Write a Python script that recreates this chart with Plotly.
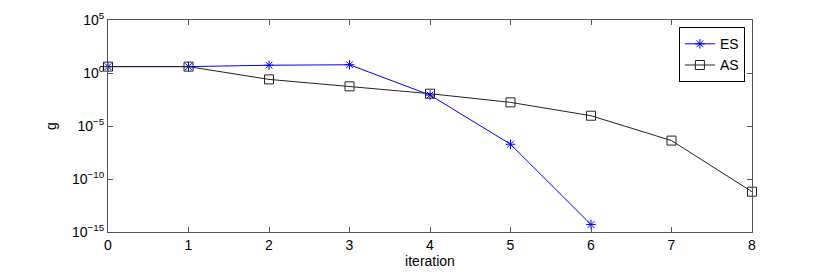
import plotly.graph_objects as go

iteration = [0, 1, 2, 3, 4, 5, 6, 7, 8]
es_x = [0, 1, 2, 3, 4, 5, 6]
es_g = [4.0, 4.0, 5.4, 6.0, 8.3e-3, 1.9e-7, 5.0e-15]
as_x = [0, 1, 2, 3, 4, 5, 6, 7, 8]
as_g = [4.0, 4.0, 0.25, 0.055, 0.0112, 1.7e-3, 9.3e-5, 4.2e-7, 6.3e-12]
ytick_vals = [1e5, 1e0, 1e-5, 1e-10, 1e-15]
ytick_text = ["10<sup>5</sup>", "10<sup>0</sup>", "10<sup>−5</sup>", "10<sup>−10</sup>", "10<sup>−15</sup>"]

fig = go.Figure()
fig.add_trace(go.Scatter(
    x=es_x, y=es_g, name="ES", mode="lines+markers",
    line=dict(color="#0000ff", width=1),
    marker=dict(symbol="asterisk-open", size=8, color="#0000ff",
                line=dict(color="#0000ff", width=1)),
    cliponaxis=False))
fig.add_trace(go.Scatter(
    x=as_x, y=as_g, name="AS", mode="lines+markers",
    line=dict(color="#222222", width=1),
    marker=dict(symbol="square-open", size=9, color="#222222",
                line=dict(color="#222222", width=1)),
    cliponaxis=False))

font = dict(family="Liberation Sans, Arial, sans-serif", size=14, color="#000000")
fig.update_layout(
    width=830, height=274,
    margin=dict(l=108, r=78, t=20, b=42, autoexpand=False),
    paper_bgcolor="white", plot_bgcolor="white",
    font=font,
    showlegend=True,
    legend=dict(x=0.989, y=0.966, xanchor="right", yanchor="top",
                bordercolor="#000000", borderwidth=1, bgcolor="white",
                font=dict(size=14), tracegroupgap=0, itemwidth=30),
    xaxis=dict(range=[0, 8], tickvals=iteration, ticks="inside", ticklen=5,
               showline=True, linecolor="#555555", linewidth=1, mirror="ticks",
               tickcolor="#555555", showgrid=False, zeroline=False, automargin=False,
               title=dict(text="iteration", standoff=2, font=font)),
    yaxis=dict(type="log", range=[-15, 5], tickvals=ytick_vals, ticktext=ytick_text,
               ticks="inside", ticklen=5, showline=True, linecolor="#555555",
               linewidth=1, mirror="ticks", tickcolor="#555555", showgrid=False,
               zeroline=False, automargin=False,
               title=dict(text="g", standoff=12, font=font)),
)
fig.write_html("out.html", config={"displayModeBar": False},
               post_script="document.body.style.margin='0';document.body.style.overflow='hidden';")
